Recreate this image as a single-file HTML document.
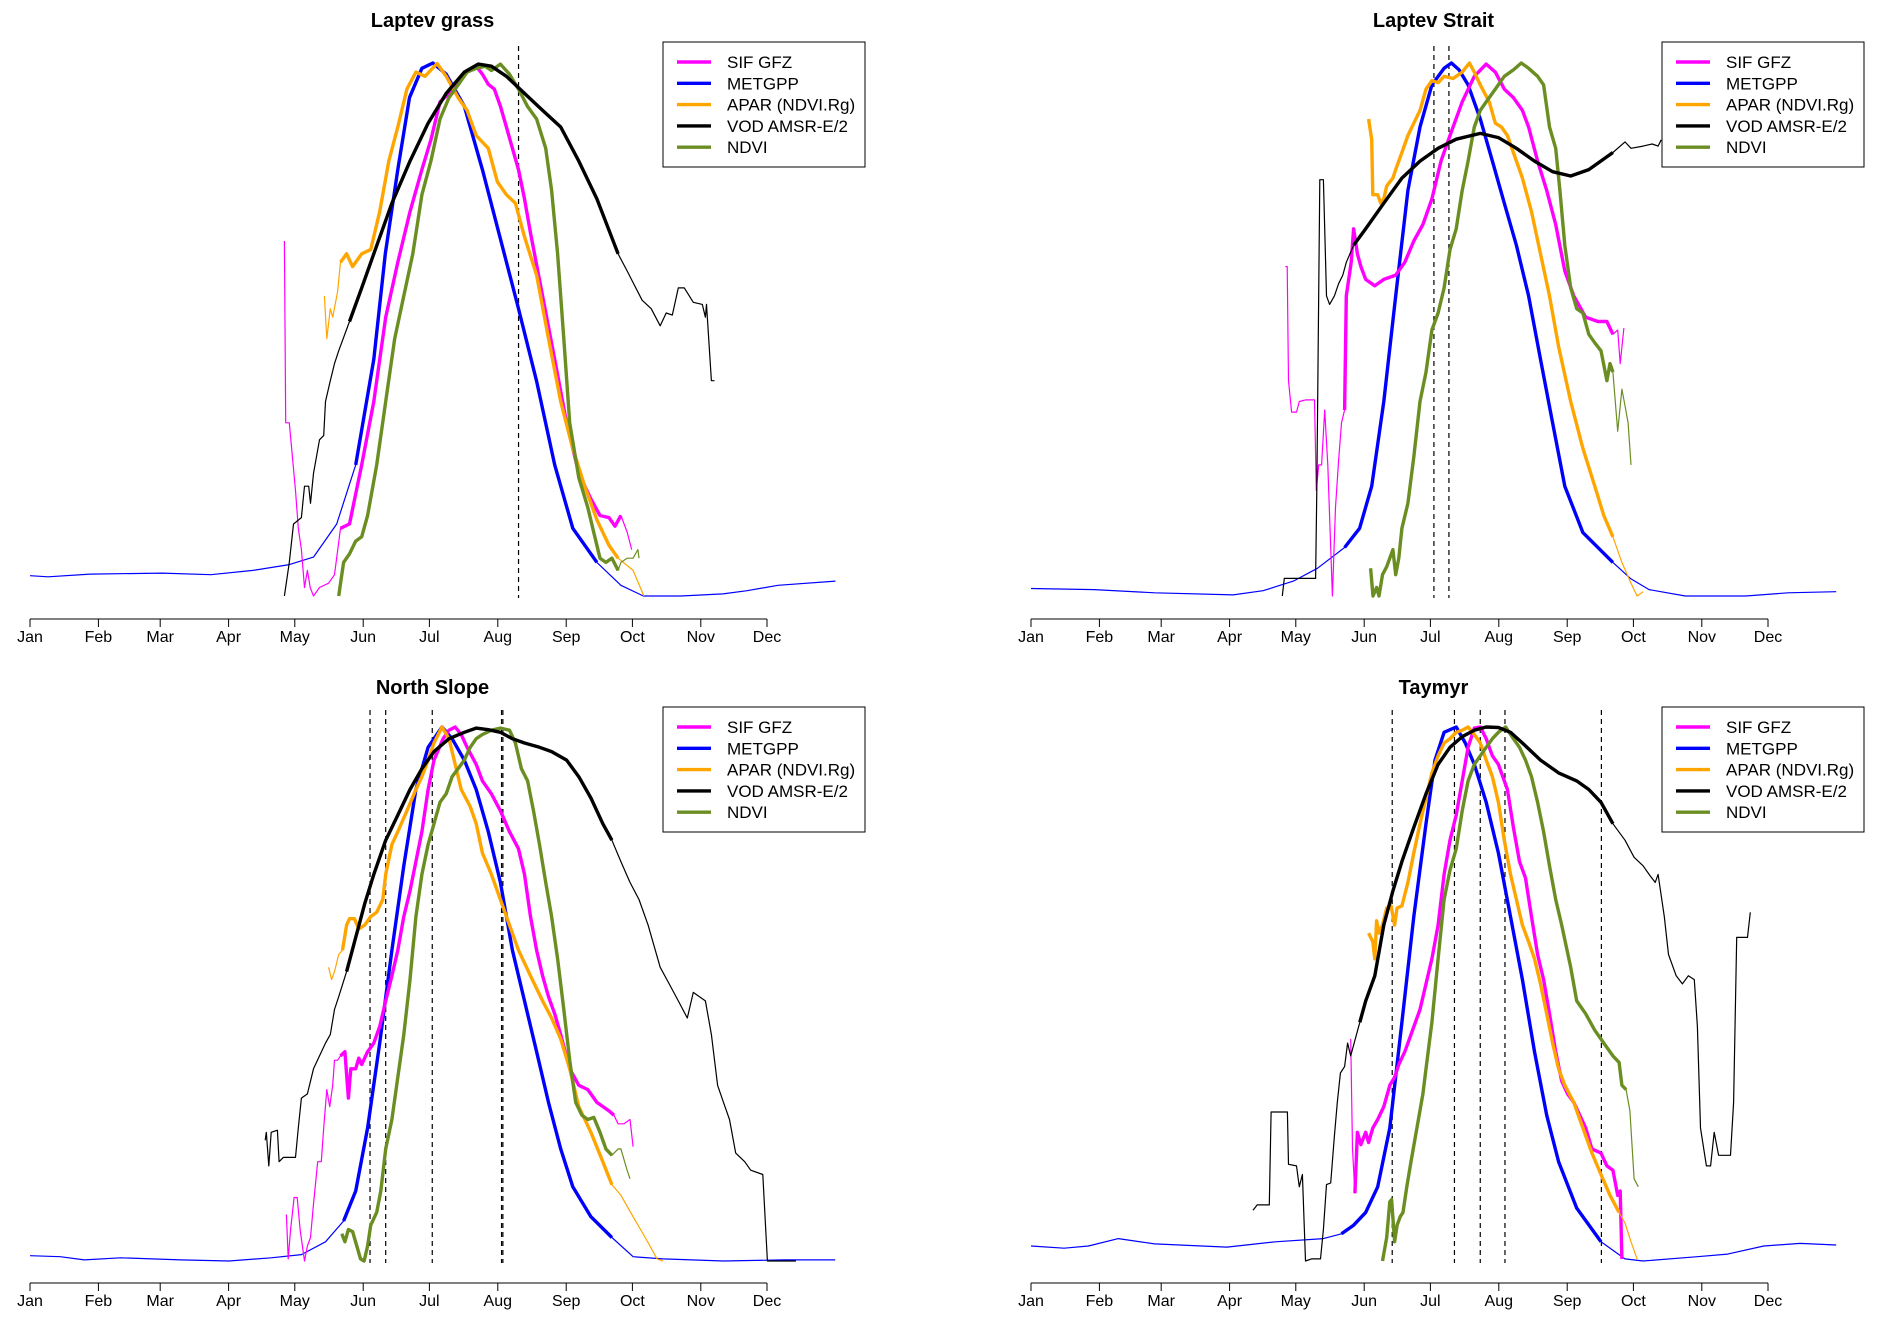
<!DOCTYPE html>
<html><head><meta charset="utf-8">
<style>
html,body{margin:0;padding:0;background:#fff;}
svg{display:block;font-family:"Liberation Sans",Arial,sans-serif;}
</style></head>
<body>
<svg id="chart" width="1889" height="1326" viewBox="0 0 1889 1326" xmlns="http://www.w3.org/2000/svg"></svg>
<script>
// ---------- DATA (day of year, normalized value 0..1) ----------
const months = ["Jan","Feb","Mar","Apr","May","Jun","Jul","Aug","Sep","Oct","Nov","Dec"];
const monthStartDays = [1,32,60,91,121,152,182,213,244,274,305,335];
const seriesNames = ["SIF GFZ","METGPP","APAR (NDVI.Rg)","VOD AMSR-E/2","NDVI"];
const panelTitles = ["Laptev grass","Laptev Strait","North Slope","Taymyr"];

// Laptev grass
const lgSifDays=[116.3,116.9,118.5,121.3,122.6,124,125.4,126.7,128,129.5,132.2,136.3,139,141.7,145.8,151.3,156.8,162.2,167.7,173.2,178.6,182.7,186.8,190.9,195,199.1,203.2,206,208.7,211.4,214.2,216.9,219.6,222.4,225.1,227.8,233.3,238.8,244.2,249.7,255.2,259.3,263.4,266.1,268.8,271.6,273.7];
const lgSifVals=[.666,.325,.325,.198,.127,.087,.016,.048,.016,0,.016,.024,.040,.127,.135,.246,.365,.523,.626,.721,.800,.856,.927,.943,.963,.983,.994,.979,.960,.951,.919,.880,.840,.800,.745,.681,.563,.444,.325,.230,.182,.151,.147,.131,.151,.120,.087];
const lgGppDays=[1,9.2,28.3,61,83,102,118.5,129.5,140,148.6,156.8,162,167.7,173,178.6,183.6,189.6,197.8,206,214,222,230.6,238.8,247,257.9,268.8,279,296,315,326,340,366];
const lgGppVals=[.038,.036,.041,.043,.040,.048,.059,.073,.135,.246,.444,.642,.800,.935,.990,1,.979,.919,.800,.673,.545,.403,.246,.127,.063,.020,0,0,.004,.010,.020,.028];
const lgAparDays=[134.4,135.5,137.1,138.2,140.4,141.7,144.5,147.2,151.3,155.4,159.5,163.6,167.7,171.8,175.9,180,185.5,189.6,195,199.1,203.2,208.7,212.8,216.9,221,225.1,230.6,236,241.5,247,252.4,257.9,263.4,267.5,274.3,279.2];
const lgAparVals=[.563,.483,.539,.523,.571,.626,.642,.618,.642,.650,.721,.816,.880,.951,.983,.975,.999,.975,.935,.911,.864,.840,.777,.753,.737,.674,.602,.483,.365,.277,.206,.143,.095,.071,.048,0];
const lgVodDays=[116.3,118.5,120.4,124,125.4,127.3,128.1,129.5,132.2,134.1,134.9,137.1,139,140.9,145.8,151.3,156.8,165,173.2,181.4,189.6,197.8,204.1,210.1,216.9,225.1,233.3,241.5,249.7,257.9,267.5,271.6,278.4,282.5,286.6,289.3,292.1,294.8,297.5,301.6,305.7,307.1,307.6,309.8,311.2];
const lgVodVals=[0,.063,.135,.147,.206,.206,.174,.230,.293,.301,.365,.404,.436,.460,.515,.578,.642,.737,.816,.887,.943,.983,.998,.994,.975,.943,.911,.880,.816,.745,.642,.610,.555,.539,.507,.531,.527,.578,.578,.551,.547,.523,.547,.404,.404];
const lgNdviDays=[140.9,143.1,145.8,148.6,151.3,154,158.1,162.2,166.3,170.4,174.5,178.6,182.7,186.8,190.9,195,199.1,203.2,207.3,210.1,214.2,218.3,222.4,226.4,230.6,234.7,237.4,240.1,242.9,245.6,249.7,253.8,256.5,259.3,262,264.7,267.5,268.8,271.6,274.3,276.5,277];
const lgNdviVals=[0,.063,.079,.103,.111,.151,.246,.365,.483,.563,.642,.753,.816,.895,.935,.959,.983,.990,.994,.986,.998,.979,.951,.919,.895,.840,.761,.642,.483,.325,.222,.166,.119,.071,.063,.071,.048,.063,.071,.071,.087,.071];
const lgDashDays=[222.4];

// Laptev Strait
const lsSifDays=[116.3,117.1,117.7,119.1,121.3,122.6,125.4,129.5,130.3,131.4,132.7,134.1,135.5,137.6,139,140.4,141.7,143.1,143.9,145,146.1,147.2,148.9,150.5,152.7,156.8,160.9,166.3,170.4,174.5,178.6,182.7,186.8,190.9,196.4,201.9,207.3,211.4,215.5,219.6,223.7,226.5,230.6,234.7,238.8,242.9,247,252.4,257.9,262,264.7,266.9,268,269.7];
const lsSifVals=[.618,.618,.404,.345,.345,.365,.368,.368,.198,.246,.246,.349,.246,0,.166,.254,.325,.349,.563,.594,.626,.689,.642,.618,.594,.582,.594,.602,.626,.666,.697,.745,.816,.864,.927,.975,.998,.983,.951,.935,.911,.880,.816,.761,.697,.610,.563,.523,.515,.515,.491,.499,.436,.503];
const lsGppDays=[1,29.7,57,92.6,106.2,119.9,130.8,143.1,149.9,155.4,160.9,166.3,171.8,177.3,182.7,188.2,191.5,195,199.1,204.6,210.1,215.5,221,226.5,231.9,237.4,242.9,251.1,264.7,272.9,281.1,297.5,324.9,344,365.9];
const lsGppVals=[.014,.012,.006,.002,.010,.028,.052,.091,.127,.206,.365,.563,.761,.880,.959,.990,1,.987,.959,.895,.816,.737,.658,.563,.444,.325,.206,.119,.063,.032,.012,0,0,.006,.008];
const lsAparDays=[154,155.4,155.9,158.1,159.5,160.9,162.2,163.6,165,166.3,169.1,171.8,174.5,177.3,180,182.7,185.5,188.2,192.3,196.4,199.7,201.9,204.6,208.7,211.4,214.2,216.9,219.6,223.7,227.8,231.9,236,240.1,245.6,251.1,256.5,260.6,264.7,268.8,272.9,275.7,278.4];
const lsAparVals=[.895,.856,.753,.753,.737,.745,.769,.777,.784,.800,.832,.864,.887,.911,.951,.967,.963,.975,.971,.983,1,.983,.959,.927,.887,.880,.864,.832,.784,.721,.642,.563,.468,.365,.277,.206,.151,.111,.063,.024,0,.008];
const lsVodDays=[114.9,115.8,130,130.5,131.9,133.5,134.9,136.3,138.5,140.4,142.3,143.9,147.2,152.7,160.9,169.1,177.3,185.5,193.7,204.6,212.8,221,229.2,237.4,245.6,253.8,264.7,270.2,272.9,278.4,282.5,285.2,286.6];
const lsVodVals=[0,.033,.033,.198,.781,.781,.563,.547,.563,.586,.602,.626,.658,.689,.737,.784,.816,.840,.857,.868,.860,.840,.816,.796,.788,.800,.832,.852,.840,.844,.848,.844,.856];
const lsNdviDays=[154.9,156,157.6,158.7,160.3,162.2,163.6,165,166.3,167.7,169.1,171.8,174.5,177.3,180,182.7,185.5,188.2,190.9,193.7,196.4,199.1,201.9,204.6,207.3,211.4,215.5,219.6,223.2,226.5,230.6,233.3,236,238.8,240.7,242.9,245.6,248.3,251.1,253.8,256.5,259.3,262,263.4,264.7,266.9,268.8,270.2,271.6,272.9];
const lsNdviVals=[.052,0,.016,0,.040,.055,.071,.087,.040,.071,.127,.174,.261,.365,.420,.499,.531,.578,.650,.689,.761,.816,.880,.911,.927,.951,.975,.987,1,.990,.975,.959,.880,.840,.761,.658,.578,.539,.531,.491,.475,.460,.404,.436,.420,.309,.388,.357,.325,.246];
const lsDashDays=[183.6,190.4];

// North Slope
const nsSifDays=[117.2,118,119.1,120.7,122.1,123.4,125.4,126.7,128.1,129.5,131.4,133,134.1,135.5,136.8,138.2,139,140.4,141.7,143.7,145.3,146.4,148.6,150,151.3,154,156.8,159.5,162.2,165,167.7,170.4,173.2,175.9,178.6,181.4,184.1,188.2,190.9,193.7,196.4,199.1,203.2,206,210.1,214.2,218.3,222.4,225.1,227.8,230.6,233.3,236,238.8,241.5,245.6,249.7,253.8,257.9,263.4,265.6,267.5,270.2,272.9,274.3];
const nsSifVals=[.087,.004,.059,.119,.119,.059,0,.028,.044,.107,.186,.186,.249,.321,.289,.329,.376,.376,.384,.392,.305,.360,.360,.380,.368,.392,.408,.439,.487,.534,.582,.645,.693,.748,.804,.883,.938,.978,.994,1,.986,.962,.930,.899,.875,.843,.804,.772,.724,.645,.582,.534,.495,.463,.424,.360,.329,.321,.297,.281,.273,.257,.257,.265,.214];
const nsGppDays=[1,14.7,25.6,42,69.3,91.2,110.3,124,134.9,143.1,148.6,154,159.5,165,170.4,175.9,181.4,187.7,192.3,197.8,203.2,208.7,214.2,219.6,225.1,230.6,236,241.5,247,255.2,264.7,274.3,287.9,315.3,342.6,365.9];
const nsGppVals=[.010,.008,.002,.006,.002,0,.006,.012,.036,.075,.131,.249,.408,.582,.740,.883,.962,1,.978,.938,.883,.804,.709,.582,.487,.392,.297,.210,.139,.083,.044,.008,.004,0,.002,.002];
const nsAparDays=[136.3,137.7,139,140.9,142.6,144.5,145.8,148,150,152.7,155.4,158.1,160.9,162.2,165,167.7,171.8,175.9,178.6,181.4,184.1,187.7,190.9,193.7,196.4,200.5,203.2,206,210.1,214.2,218.3,222.4,227.8,233.3,237.4,241.5,245.6,249.7,255.2,260.6,264.7,268.8,274.3,279.8,285.2,287.9];
const nsAparVals=[.550,.527,.542,.574,.582,.629,.641,.641,.622,.629,.645,.653,.677,.724,.780,.804,.843,.883,.907,.938,.970,1,.978,.930,.883,.851,.819,.764,.724,.677,.629,.582,.534,.487,.455,.416,.360,.289,.241,.186,.143,.123,.083,.044,.004,0];
const nsVodDays=[107.6,108.1,109.2,110.3,113.1,113.9,115.8,121.3,122.6,124,126.7,129.5,132.2,134.9,137.1,139,140.9,144.5,148.6,152.7,156.8,162.2,167.7,173.2,178.6,184.1,190.9,197.8,203.2,208.7,214.2,219.6,225.1,231.9,237.4,244.2,249.7,255.2,260.6,264.7,268.8,272.9,277,281.1,286.6,290.7,294.8,298.9,301.6,304.4,307.1,309.8,312.6,315.3,318,320.8,324.9,327.6,333.1,335.2,348.1];
const nsVodVals=[.226,.241,.178,.241,.245,.186,.194,.194,.249,.305,.313,.360,.384,.408,.424,.471,.495,.542,.606,.669,.724,.788,.835,.883,.922,.954,.978,.990,.998,.995,.990,.978,.970,.962,.954,.938,.907,.867,.819,.788,.748,.709,.677,.629,.550,.519,.487,.455,.503,.495,.487,.424,.329,.297,.265,.202,.186,.170,.162,0,0];
const nsNdviDays=[142.3,143.7,145.3,147.2,149.1,150.8,152.4,154,155.4,158.1,160,162.2,165,167.7,170.4,173.2,175.9,178.6,181.4,184.1,186.8,189.6,192.3,195,197.8,200.5,203.2,206,210.1,214.2,218.3,221,223.7,226.5,229.2,231.9,234.7,237.4,240.1,242.9,245.6,248.3,251.1,253.8,256.5,259.3,262,264.7,267.5,268.8,271.6,272.9];
const nsNdviVals=[.051,.036,.059,.055,.028,.004,0,.028,.067,.091,.131,.210,.265,.344,.424,.527,.645,.724,.780,.819,.859,.875,.907,.922,.938,.962,.978,.986,.994,.998,.994,.970,.922,.899,.843,.780,.709,.645,.566,.471,.376,.297,.273,.265,.269,.241,.210,.198,.210,.210,.170,.154];
const nsDashDays=[155.1,162.2,183.3,214.7,215.3];

// Taymyr
const tySifDays=[145.9,146.7,147.8,148.9,150.5,152.7,154,155.9,158.1,160.9,163.6,165.8,167.7,170.4,173.2,177.3,180,182.7,185.5,188.2,190.9,193.7,196.4,199.1,201.9,204.6,207.3,210.1,212.8,216.9,219.6,222.4,225.1,227.8,230.6,233.3,236,238.8,241.5,244.2,247,249.7,252.4,255.2,259.3,262,264.7,266.9,268,268.8];
const tySifVals=[.416,.210,.127,.241,.218,.241,.222,.249,.265,.289,.329,.344,.368,.392,.424,.471,.519,.566,.629,.724,.788,.835,.899,.962,.998,1,.978,.946,.930,.883,.812,.748,.717,.645,.574,.527,.463,.392,.337,.313,.297,.273,.249,.210,.202,.178,.170,.123,.131,.004];
const tyGppDays=[1,16,27,40.6,57,89.8,111.7,133.5,141.7,147.2,152.7,158.1,163.6,169.1,174.5,180,184.1,188.2,193.7,197.8,201.9,207.3,212.8,218.3,223.7,229.2,234.7,240.1,248.3,259.3,270.2,278.4,303,316.7,333.1,349.5,365.9];
const tyGppVals=[.028,.024,.028,.042,.032,.026,.036,.042,.051,.067,.091,.139,.249,.447,.645,.819,.938,.990,1,.970,.930,.859,.764,.645,.527,.392,.273,.186,.099,.036,.004,0,.008,.013,.028,.033,.030];
const tyAparDays=[154,155.9,156.8,157.6,158.7,160.3,162.2,164.2,165.8,166.9,169.1,171.8,174.5,177.3,180,182.7,185.5,188.2,190.9,193.7,196.4,199.1,201.9,204.6,207.3,210.1,212.8,215.5,218.3,221,223.7,226.5,229.2,231.9,234.7,237.4,240.1,242.9,247,251.1,255.2,259.3,263.4,267.5,270.2,272.9,275.7];
const tyAparVals=[.614,.598,.566,.637,.614,.629,.661,.665,.629,.661,.665,.709,.764,.819,.867,.914,.946,.970,.978,.990,.994,1,.986,.970,.938,.907,.859,.788,.724,.677,.629,.598,.566,.519,.463,.408,.360,.329,.297,.249,.202,.162,.123,.091,.071,.036,.004];
const tyVodDays=[101.6,103.5,109,109.8,117.2,117.7,121.3,122.6,124,125.4,128.1,132.2,133.5,134.9,136.8,138.5,139.8,141.2,143.1,144.5,145.9,150,152.7,156.8,160.9,165,169.1,174.5,180,185.5,190.9,196.4,201.9,207.3,212.8,218.3,223.7,231.9,240.1,248.3,253.8,259.3,264.7,270.2,274.3,278.4,281.1,283.9,285.2,288,289.9,293.4,296.2,298.9,301.6,303,304.4,307.1,309,310.6,312.6,318,319.4,320.8,325.7,327];
const tyVodVals=[.095,.105,.105,.279,.279,.181,.178,.139,.162,0,.004,.004,.059,.143,.146,.234,.297,.352,.364,.408,.384,.447,.487,.534,.629,.693,.748,.812,.875,.930,.962,.982,.994,1,.999,.990,.970,.938,.914,.899,.883,.859,.819,.788,.756,.740,.724,.709,.724,.645,.574,.534,.519,.534,.527,.439,.249,.178,.178,.241,.198,.198,.297,.606,.606,.653];
const tyNdviDays=[160.3,162.2,163.6,164.4,165.8,166.9,168.3,169.6,171.3,173.2,175.9,178.6,180,182.7,185.5,188.2,190.9,193.7,196.4,199.1,201.9,204.6,207.3,210.1,212.8,216.1,219.6,222.4,225.1,227.8,230.6,233.3,236,238.8,241.5,245.6,248.3,252.4,256.5,260.6,264.7,267.5,268.8,270.7,272.4,274.3,276.2];
const tyNdviVals=[0,.044,.111,.115,.036,.067,.083,.091,.139,.186,.249,.313,.360,.447,.566,.677,.732,.772,.843,.899,.930,.946,.962,.978,.990,1,.978,.962,.938,.907,.859,.804,.740,.677,.629,.550,.487,.463,.432,.408,.384,.372,.329,.321,.281,.154,.139];
const tyDashDays=[164.7,192.9,204.6,215.8,259.5];

// ---------- LAYOUT ----------
const colors=["#ff00ff","#0000ff","#ffa500","#000000","#6b8e23"];
const panels=[
 {x0:30,x1:767,yTop:63,yBot:596,axisY:619,titleY:27,title:panelTitles[0],legX:663,legY:42,thick:[[141,269],[141,268],[141,268],[141,268],[140,268]],
  days:[lgSifDays,lgGppDays,lgAparDays,lgVodDays,lgNdviDays],vals:[lgSifVals,lgGppVals,lgAparVals,lgVodVals,lgNdviVals],dash:lgDashDays},
 {x0:1031,x1:1768,yTop:63,yBot:596,axisY:619,titleY:27,title:panelTitles[1],legX:1662,legY:42,thick:[[143,265],[143,265],[154,265],[144,265],[154,265]],
  days:[lsSifDays,lsGppDays,lsAparDays,lsVodDays,lsNdviDays],vals:[lsSifVals,lsGppVals,lsAparVals,lsVodVals,lsNdviVals],dash:lsDashDays},
 {x0:30,x1:767,yTop:727,yBot:1261,axisY:1283,titleY:694,title:panelTitles[2],legX:663,legY:707,thick:[[141,266],[141,265],[141,265],[141,265],[142,266]],
  days:[nsSifDays,nsGppDays,nsAparDays,nsVodDays,nsNdviDays],vals:[nsSifVals,nsGppVals,nsAparVals,nsVodVals,nsNdviVals],dash:nsDashDays},
 {x0:1031,x1:1768,yTop:727,yBot:1261,axisY:1283,titleY:694,title:panelTitles[3],legX:1662,legY:707,thick:[[147,269],[141,270],[154,270],[146,270],[160,271]],
  days:[tySifDays,tyGppDays,tyAparDays,tyVodDays,tyNdviDays],vals:[tySifVals,tyGppVals,tyAparVals,tyVodVals,tyNdviVals],dash:tyDashDays}
];
const NS="http://www.w3.org/2000/svg";
const svg=document.getElementById('chart');
function mk(tag,attrs,parent){const e=document.createElementNS(NS,tag);for(const k in attrs)e.setAttribute(k,attrs[k]);(parent||svg).appendChild(e);return e;}
const slug=s=>s.toLowerCase().replace(/[^a-z0-9]+/g,'-').replace(/-+$/,'');

panels.forEach((p,pi)=>{
  const xS=d=>p.x0+(d-1)*(p.x1-p.x0)/334;
  const yS=v=>p.yBot-v*(p.yBot-p.yTop);
  const g=mk('g',{});
  
  
  const t=mk('text',{x:(p.x0+p.x1)/2+34,y:p.titleY,'text-anchor':'middle','font-size':20,'font-weight':'bold'},g);
  t.textContent=p.title;
  
  
  const ax=mk('g',{},g);
  
  
  mk('line',{x1:xS(1),x2:xS(335),y1:p.axisY,y2:p.axisY,stroke:'#000','stroke-width':1},ax);
  monthStartDays.forEach((d,i)=>{
    mk('line',{x1:xS(d),x2:xS(d),y1:p.axisY,y2:p.axisY+8,stroke:'#000','stroke-width':1},ax);
    const lb=mk('text',{x:xS(d),y:p.axisY+23,'text-anchor':'middle','font-size':16},ax);
    lb.textContent=months[i];
    
    
  });
  p.dash.forEach(d=>{
    const l=mk('line',{x1:xS(d),x2:xS(d),y1:p.yTop-17,y2:p.yBot+2,stroke:'#000','stroke-width':1.2,'stroke-dasharray':'5,4'},g);
    
    
  });
  [1,0,2,4,3].forEach(si=>{
    const ds=p.days[si],vs=p.vals[si];
    const sg=mk('g',{},g);
    
    
    const all=ds.map((d,i)=>xS(d).toFixed(1)+','+yS(vs[i]).toFixed(1)).join(' ');
    mk('polyline',{points:all,fill:'none',stroke:colors[si],'stroke-width':1.2,'stroke-linejoin':'round'},sg);
    const [a,b]=p.thick[si];
    const th=[];
    ds.forEach((d,i)=>{if(d>=a&&d<=b)th.push(xS(d).toFixed(1)+','+yS(vs[i]).toFixed(1));});
    if(th.length>1)mk('polyline',{points:th.join(' '),fill:'none',stroke:colors[si],'stroke-width':3.4,'stroke-linejoin':'round'},sg);
  });
  const lg=mk('g',{},g);
  
  
  mk('rect',{x:p.legX,y:p.legY,width:202,height:125,fill:'#fff',stroke:'#000','stroke-width':1},lg);
  seriesNames.forEach((n,i)=>{
    const yy=p.legY+20+i*21.3;
    const e=mk('g',{},lg);
    
    
    mk('line',{x1:p.legX+14,x2:p.legX+48,y1:yy,y2:yy,stroke:colors[i],'stroke-width':3.4},e);
    const tx=mk('text',{x:p.legX+64,y:yy+6,'font-size':17},e);
    tx.textContent=n;
  });
});
</script>
</body></html>
